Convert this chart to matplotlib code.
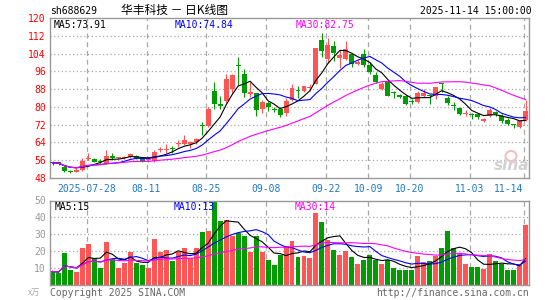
import numpy as np
import pandas as pd
import matplotlib
matplotlib.use("Agg")
import matplotlib.pyplot as plt
from matplotlib.patches import Ellipse

# ---------------- data ----------------
opens = [55.0, 55.0, 53.1, 50.9, 50.8, 51.4, 56.5, 56.5, 55.4, 54.3,
         57.9, 57.0, 56.8, 57.4, 57.9, 56.8, 55.9, 55.8, 60.7, 60.4,
         61.2, 63.4, 63.3, 63.3, 64.0, 71.7, 71.2, 87.1, 81.3, 82.5,
         88.0, 98.7, 94.7, 85.9, 86.1, 79.2, 81.9, 79.0, 79.1, 77.3,
         83.1, 87.4, 87.2, 88.6, 90.5, 110.0, 101.5, 107.3, 102.2, 101.4,
         104.0, 99.1, 103.6, 99.0, 94.3, 88.0, 91.5, 86.3, 85.4, 84.9,
         82.6, 82.3, 84.8, 85.0, 84.7, 90.6, 83.9, 80.9, 79.4, 76.6,
         76.7, 76.6, 73.8, 76.1, 77.6, 75.8, 73.9, 72.2, 71.1, 74.1]
highs = [55.8, 55.2, 53.3, 51.6, 52.3, 56.8, 59.4, 57.1, 56.5, 60.6,
         59.1, 57.4, 57.9, 59.4, 58.4, 57.1, 57.4, 60.4, 61.9, 63.3,
         62.5, 65.1, 67.3, 64.6, 65.9, 73.3, 80.1, 91.0, 85.0, 94.7,
         94.7, 102.4, 97.0, 91.0, 86.3, 83.1, 82.6, 79.9, 79.9, 83.8,
         90.3, 89.2, 89.5, 90.5, 106.5, 113.3, 111.0, 109.5, 105.4, 109.5,
         104.2, 101.0, 105.9, 100.3, 95.8, 91.0, 92.0, 87.0, 86.0, 85.3,
         83.4, 87.0, 88.0, 85.9, 89.0, 90.9, 85.0, 82.3, 80.0, 78.6,
         77.1, 77.1, 74.9, 79.4, 78.1, 77.0, 75.0, 72.5, 74.3, 83.2]
lows = [53.8, 54.0, 50.5, 50.1, 50.5, 51.1, 56.0, 55.0, 54.3, 54.1,
        56.1, 56.6, 56.5, 57.0, 56.6, 55.0, 55.3, 55.3, 59.8, 59.4,
        59.4, 61.8, 62.8, 61.6, 63.1, 67.3, 70.9, 79.0, 79.0, 81.8,
        86.3, 89.8, 84.6, 84.6, 76.0, 77.4, 78.1, 77.6, 75.6, 76.0,
        82.6, 84.0, 86.5, 87.2, 90.2, 102.3, 99.7, 100.8, 97.5, 101.0,
        98.0, 98.8, 98.0, 94.7, 90.8, 87.6, 84.7, 83.8, 84.2, 80.9,
        81.1, 81.6, 84.3, 81.1, 83.4, 86.8, 81.0, 78.6, 76.3, 76.0,
        74.7, 74.7, 73.3, 75.6, 76.1, 72.9, 72.0, 70.4, 70.6, 73.6]
closes = [54.8, 54.5, 51.3, 50.7, 51.8, 55.8, 56.8, 55.4, 55.2, 57.9,
          56.8, 57.2, 57.6, 58.9, 57.0, 55.3, 56.5, 59.8, 61.0, 60.7,
          60.9, 63.7, 65.1, 64.3, 65.4, 71.2, 79.0, 81.3, 80.5, 92.5,
          94.3, 98.3, 86.1, 86.5, 78.8, 82.2, 80.1, 78.7, 76.5, 82.8,
          88.5, 87.1, 89.3, 88.9, 106.4, 105.3, 107.8, 104.3, 103.3, 105.9,
          99.2, 100.0, 99.0, 95.8, 91.3, 90.5, 85.0, 86.1, 84.6, 81.3,
          82.3, 86.2, 86.4, 84.7, 88.8, 90.3, 81.6, 80.2, 77.0, 76.8,
          76.5, 75.6, 74.5, 78.8, 77.0, 73.6, 72.4, 72.0, 73.6, 78.0]
volumes = [7.8, 7.0, 18.6, 8.6, 7.4, 21.8, 24.0, 15.6, 9.8, 25.2,
           15.4, 9.8, 12.6, 19.4, 12.8, 11.4, 9.8, 27.0, 19.4, 20.4,
           14.2, 19.4, 21.8, 15.8, 21.8, 31.4, 32.0, 50.0, 38.0, 38.4,
           29.0, 30.4, 29.0, 19.4, 29.0, 19.4, 14.4, 11.4, 17.8, 23.0,
           25.6, 16.4, 17.0, 15.6, 42.8, 37.2, 26.6, 20.6, 17.6, 20.0,
           16.2, 12.2, 14.6, 17.6, 14.6, 12.2, 14.6, 10.0, 8.6, 8.6,
           8.6, 17.0, 13.6, 14.0, 17.0, 21.6, 32.0, 22.0, 18.6, 12.0,
           10.2, 10.6, 9.0, 18.0, 14.0, 12.0, 8.6, 8.6, 12.2, 35.6]
vol_colors = ("ggggrrrggr" "grrrggrrrr" "grrrrgrggr" "rggrgrgggr"
              "rgrrrgrgrr" "grgggrgggg" "grrgrgggrr" "ggrrggggrr")

tick_idx = [6, 16, 26, 36, 46, 53, 60, 70, 79]
tick_labels = ["2025-07-28", "08-11", "08-25", "09-08", "09-22",
               "10-09", "10-20", "11-03", "11-14"]
price_ticks = [48, 56, 64, 72, 80, 88, 96, 104, 112, 120]
vol_ticks = [10, 20, 30, 40, 50]
ma_windows = [5, 10, 30]
ma_price_last = ["73.91", "74.84", "82.75"]
ma_vol_last = ["15", "13", "14"]

# ---------------- styling ----------------
plt.rcParams["font.family"] = ["DejaVu Sans Mono", "Noto Sans CJK SC"]
RED = "#ff5555"
GREEN = "#009c00"
MA_COLORS = ["#000000", "#0000ff", "#ff00ff"]
GRID = "#a8a8a8"
FRAME = "#999999"
W, H = 545, 300

fig = plt.figure(figsize=(W / 100, H / 100), dpi=100)
fig.patch.set_facecolor("white")
ax = fig.add_axes([50 / W, 1 - 178 / H, 479 / W, 160 / H])
axv = fig.add_axes([50 / W, 1 - 284.5 / H, 479 / W, 84 / H])

n = len(closes)
x = np.arange(n)
o = np.array(opens); c = np.array(closes)
hi = np.array(highs); lo = np.array(lows)
up = c >= o
ccol = np.where(up, RED, GREEN)

for a in (ax, axv):
    a.set_xlim(-0.42, n - 0.42)
    for s in a.spines.values():
        s.set_color(FRAME)
        s.set_linewidth(1.0)
    for t in tick_idx:
        a.axvline(t - 0.3, color=GRID, lw=0.9, ls=(0, (4, 3)), zorder=0)

# price panel
ax.set_ylim(48, 120)
for yv in price_ticks[1:-1]:
    ax.axhline(yv, color=GRID, lw=0.9, ls=(0, (1, 2)), zorder=0)
ax.vlines(x, lo, hi, colors=ccol, lw=0.8, zorder=2)
body_bot = np.minimum(o, c)
body_h = np.maximum(np.abs(c - o), 0.45)
ax.bar(x, body_h, bottom=body_bot, width=0.83, color=ccol, lw=0, zorder=3)

cs = pd.Series(closes)
for w, col in zip(ma_windows, MA_COLORS):
    ax.plot(x, cs.rolling(w, min_periods=1).mean(), color=col, lw=0.8, zorder=4)

ax.set_yticks(price_ticks)
ax.set_yticklabels([str(v) for v in price_ticks])
ax.tick_params(axis="y", length=0, pad=3, labelcolor="#ff0000", labelsize=7)
ax.set_xticks([t - 0.3 for t in tick_idx])
ax.set_xticklabels(tick_labels)
ax.tick_params(axis="x", length=0, pad=4, labelcolor="#1f78c8", labelsize=7)
ax.get_xticklabels()[-1].set_horizontalalignment("right")

# volume panel
axv.set_ylim(0, 50)
for yv in vol_ticks[:-1]:
    axv.axhline(yv, color=GRID, lw=0.9, ls=(0, (1, 2)), zorder=0)
vcol = [RED if ch == "r" else GREEN for ch in vol_colors]
axv.bar(x, volumes, width=0.83, color=vcol, lw=0, zorder=2)
vs = pd.Series(volumes)
for w, col in zip(ma_windows, MA_COLORS):
    axv.plot(x, vs.rolling(w, min_periods=1).mean(), color=col, lw=0.8, zorder=4)
axv.set_yticks(vol_ticks)
axv.set_yticklabels([str(v) for v in vol_ticks])
axv.tick_params(axis="y", length=0, pad=3, labelcolor="#999999", labelsize=7)
axv.set_xticks([])


def ftext(px, py, s, **kw):
    kw.setdefault("va", "center")
    fig.text(px / W, 1 - py / H, s, **kw)


# header
ftext(50.5, 11, "sh688629", fontsize=7, color="#000000")
ftext(121, 10, "华丰科技 － 日K线图", fontsize=8.5, color="#000000",
      family=["Noto Sans CJK SC", "DejaVu Sans"])
ftext(532, 11, "2025-11-14 15:00:00", fontsize=7, color="#000000", ha="right")

# MA labels
for xp, w, val, col in zip([54, 175, 296], ma_windows, ma_price_last, MA_COLORS):
    ftext(xp, 25, f"MA{w}:{val}", fontsize=7, color=col)
for xp, w, val, col in zip([55, 174, 295], ma_windows, ma_vol_last, MA_COLORS):
    ftext(xp, 207, f"MA{w}:{val}", fontsize=7, color=col)

# footer
ftext(28, 292, "x万", fontsize=6, color="#aaaaaa",
      family=["Noto Sans CJK SC", "DejaVu Sans"])
ftext(50, 293, "Copyright 2025 SINA.COM", fontsize=7, color="#666666")
ftext(529, 293, "http://finance.sina.com.cn", fontsize=7, color="#666666", ha="right")

# watermark
fig.add_artist(Ellipse((511 / W, 1 - 156 / H), 11 / W, 10 / H, fill=False,
                       edgecolor="#f3c0c0", lw=1.5))
ftext(512, 166, "sina", fontsize=11, color="#d2d2d2", ha="center",
      fontweight="bold", fontstyle="italic", family="DejaVu Sans")

fig.savefig("out.png", dpi=100, facecolor="white")
